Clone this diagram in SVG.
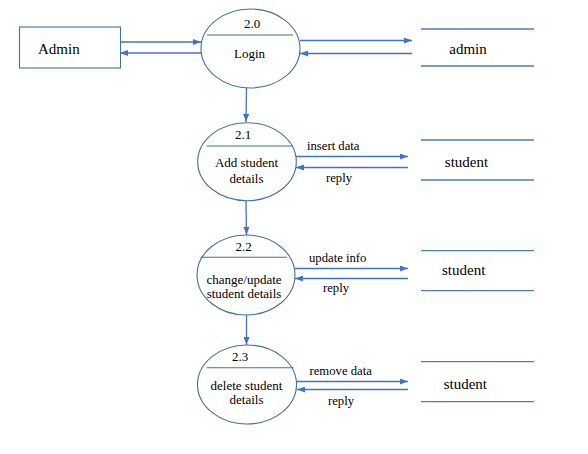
<svg xmlns="http://www.w3.org/2000/svg" width="588" height="454" viewBox="0 0 588 454" font-family="'Liberation Serif', 'Times New Roman', serif">
<defs>
<marker id="ah" viewBox="0 0 8 6" refX="8" refY="3" markerWidth="8" markerHeight="6" markerUnits="userSpaceOnUse" orient="auto">
<path d="M0,0 L8,3 L0,6 z" fill="#4472C4"/>
</marker>
</defs>
<style>
.shape{fill:#fff;stroke:#41719C;stroke-width:1.1}
.sep{stroke:#41719C;stroke-width:1.1}
.store{stroke:#4F7BC0;stroke-width:1.3}
.flow{stroke:#4472C4;stroke-width:1.3;fill:none;marker-end:url(#ah)}
text{font-family:'Liberation Serif','Times New Roman',serif;fill:#000}
.big{font-size:15px}
.sm{font-size:13px}
.lbl{font-size:12.7px}
</style>
<rect width="588" height="454" fill="#fff"/>
<g id="connectors">
<line class="flow" x1="120" y1="42" x2="201" y2="42"/>
<line class="flow" x1="201" y1="53" x2="120" y2="53"/>
<line class="flow" x1="300" y1="40.5" x2="412" y2="40.5"/>
<line class="flow" x1="412" y1="53.5" x2="300" y2="53.5"/>
<line class="flow" x1="246.5" y1="88" x2="246" y2="122"/>
<line class="flow" x1="296" y1="156.5" x2="408" y2="156.5"/>
<line class="flow" x1="408" y1="167.5" x2="296" y2="167.5"/>
<line class="flow" x1="246" y1="201" x2="246.5" y2="235"/>
<line class="flow" x1="295" y1="268.5" x2="408" y2="268.5"/>
<line class="flow" x1="408" y1="278.5" x2="295" y2="278.5"/>
<line class="flow" x1="246.5" y1="315" x2="246.5" y2="345"/>
<line class="flow" x1="297" y1="381.5" x2="408" y2="381.5"/>
<line class="flow" x1="408" y1="389.5" x2="297" y2="389.5"/>
<text class="lbl" x="307" y="149.5">insert data</text>
<text class="lbl" x="326" y="181.5">reply</text>
<text class="lbl" x="309" y="261.5">update info</text>
<text class="lbl" x="323" y="292">reply</text>
<text class="lbl" x="309.5" y="374.5">remove data</text>
<text class="lbl" x="328" y="404.5">reply</text>
</g>
<g id="admin-entity">
<rect class="shape" x="19.5" y="27" width="101" height="41"/>
<text class="big" x="38" y="54">Admin</text>
</g>
<g id="p2_0">
<ellipse class="shape" cx="250.5" cy="48.5" rx="49.5" ry="39.5"/>
<line class="sep" x1="207" y1="35" x2="293" y2="35"/>
<text class="sm" x="252" y="28" text-anchor="middle">2.0</text>
<text class="sm" x="249.5" y="58" text-anchor="middle">Login</text>
</g>
<g id="p2_1">
<ellipse class="shape" cx="247" cy="161.7" rx="49.3" ry="39"/>
<line class="sep" x1="206.5" y1="146" x2="293" y2="146"/>
<text class="sm" x="243" y="139" text-anchor="middle">2.1</text>
<text class="sm" x="246.5" y="167" text-anchor="middle">Add student</text>
<text class="sm" x="246.5" y="182.5" text-anchor="middle">details</text>
</g>
<g id="p2_2">
<ellipse class="shape" cx="246" cy="275" rx="49" ry="40"/>
<line class="sep" x1="200.5" y1="257.3" x2="287" y2="257.3"/>
<text class="sm" x="243.5" y="250.5" text-anchor="middle">2.2</text>
<text class="sm" x="244" y="283.5" text-anchor="middle">change/update</text>
<text class="sm" x="244" y="298" text-anchor="middle">student details</text>
</g>
<g id="p2_3">
<ellipse class="shape" cx="247" cy="384.5" rx="49.5" ry="39.5"/>
<line class="sep" x1="206.5" y1="367.7" x2="293.5" y2="367.7"/>
<text class="sm" x="240" y="360.5" text-anchor="middle">2.3</text>
<text class="sm" x="246.5" y="389.5" text-anchor="middle">delete student</text>
<text class="sm" x="246.5" y="404" text-anchor="middle">details</text>
</g>
<g id="store-admin">
<line class="store" x1="421" y1="29" x2="534" y2="29"/>
<line class="store" x1="421" y1="66" x2="534" y2="66"/>
<text class="big" x="468" y="54" text-anchor="middle">admin</text>
</g>
<g id="store-student-1">
<line class="store" x1="421" y1="140" x2="534" y2="140"/>
<line class="store" x1="421" y1="180" x2="534" y2="180"/>
<text class="big" x="466.5" y="166.5" text-anchor="middle">student</text>
</g>
<g id="store-student-2">
<line class="store" x1="421" y1="250.7" x2="534" y2="250.7"/>
<line class="store" x1="421" y1="290.7" x2="534" y2="290.7"/>
<text class="big" x="463.7" y="275" text-anchor="middle">student</text>
</g>
<g id="store-student-3">
<line class="store" x1="421" y1="361.7" x2="534" y2="361.7"/>
<line class="store" x1="421" y1="401.7" x2="534" y2="401.7"/>
<text class="big" x="465.3" y="388.5" text-anchor="middle">student</text>
</g>
</svg>
